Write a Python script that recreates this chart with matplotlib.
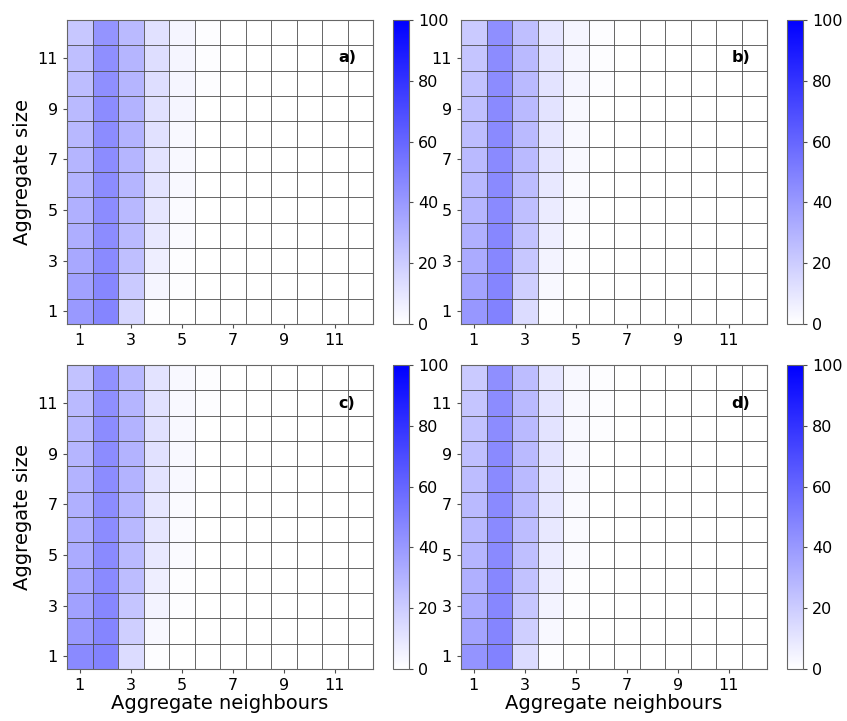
import numpy as np
import matplotlib
matplotlib.use("Agg")
import matplotlib.pyplot as plt
from matplotlib.colors import LinearSegmentedColormap

# percentage per (aggregate size, neighbours); rows = size 12 (top) .. 1 (bottom)
# columns = neighbours 1..6, neighbours 7..12 are all ~0
panel_a = [
    [22, 42, 27, 12, 4, 1],
    [25, 44, 29, 13, 4, 1],
    [26, 44, 29, 13, 4, 1],
    [27, 45, 30, 12, 4, 0],
    [28, 45, 30, 12, 3, 0],
    [29, 45, 29, 11, 3, 0],
    [30, 45, 29, 11, 3, 0],
    [31, 45, 28, 10, 2, 0],
    [32, 45, 27, 9, 2, 0],
    [34, 46, 25, 7, 1, 0],
    [37, 47, 21, 4, 1, 0],
    [40, 48, 16, 1, 0, 0],
]
panel_b = [
    [21, 44, 25, 10, 4, 1],
    [23, 45, 27, 11, 4, 1],
    [24, 45, 27, 11, 4, 1],
    [25, 46, 27, 11, 3, 0],
    [26, 46, 27, 10, 3, 0],
    [27, 46, 27, 10, 3, 0],
    [28, 46, 26, 9, 2, 0],
    [29, 46, 25, 8, 2, 0],
    [31, 47, 24, 7, 1, 0],
    [33, 47, 22, 5, 1, 0],
    [36, 48, 19, 3, 0, 0],
    [41, 49, 14, 1, 0, 0],
]
panel_c = [
    [24, 43, 28, 11, 3, 1],
    [27, 44, 29, 12, 3, 1],
    [28, 45, 30, 12, 3, 0],
    [29, 45, 30, 12, 3, 0],
    [30, 45, 30, 11, 3, 0],
    [31, 45, 29, 10, 2, 0],
    [32, 45, 28, 10, 2, 0],
    [33, 46, 27, 9, 2, 0],
    [35, 46, 26, 7, 1, 0],
    [37, 47, 23, 5, 1, 0],
    [40, 48, 19, 3, 0, 0],
    [46, 49, 14, 1, 0, 0],
]
panel_d = [
    [21, 44, 26, 10, 3, 1],
    [23, 45, 27, 11, 3, 1],
    [24, 45, 27, 11, 3, 1],
    [25, 46, 27, 11, 3, 0],
    [26, 46, 27, 10, 3, 0],
    [27, 46, 27, 10, 2, 0],
    [28, 46, 26, 9, 2, 0],
    [29, 46, 25, 8, 2, 0],
    [31, 47, 24, 7, 1, 0],
    [33, 47, 22, 5, 1, 0],
    [36, 48, 19, 3, 0, 0],
    [42, 49, 14, 1, 0, 0],
]
panel_labels = ["a)", "b)", "c)", "d)"]
ticks = [1, 3, 5, 7, 9, 11]

cmap = LinearSegmentedColormap.from_list("wb", ["#ffffff", "#0000ff"])

fig = plt.figure(figsize=(8.47, 7.21), dpi=100)
W, H = 847, 721
# (left, top) of heatmap in pixels, colorbar left
boxes = [(67, 20, 393), (461, 20, 787), (67, 365, 393), (461, 365, 787)]
panels = [panel_a, panel_b, panel_c, panel_d]
edges = np.arange(0.5, 13.5, 1)

for i, (data, lab, (lx, ty, cx)) in enumerate(zip(panels, panel_labels, boxes)):
    arr = np.array(data, dtype=float)[::-1]  # row 0 -> size 1
    full = np.hstack([arr, np.zeros((12, 6))])
    ax = fig.add_axes([lx / W, 1 - (ty + 304) / H, 306 / W, 304 / H])
    mesh = ax.pcolormesh(edges, edges, full, cmap=cmap, vmin=0, vmax=100)
    ax.vlines(edges[1:-1], 0.5, 12.5, color="0.3", lw=0.6)
    ax.hlines(edges[1:-1], 0.5, 12.5, color="0.3", lw=0.6)
    ax.set_xlim(0.5, 12.5)
    ax.set_ylim(0.5, 12.5)
    ax.set_xticks(ticks)
    ax.set_yticks(ticks)
    ax.tick_params(labelsize=11.5, length=3, color="0.3")
    for s in ax.spines.values():
        s.set_color("0.4")
    ax.text(0.915, 0.875, lab, transform=ax.transAxes, ha="center", va="center",
            fontsize=11.5, fontweight="bold")
    if i % 2 == 0:
        ax.set_ylabel("Aggregate size", fontsize=14)
    if i >= 2:
        ax.set_xlabel("Aggregate neighbours", fontsize=14, labelpad=1)
    cax = fig.add_axes([cx / W, 1 - (ty + 304) / H, 16 / W, 304 / H])
    cb = fig.colorbar(mesh, cax=cax, ticks=[0, 20, 40, 60, 80, 100])
    cb.outline.set_edgecolor("0.4")
    cb.ax.tick_params(labelsize=11.5, length=3, color="0.3")

fig.savefig("out.png", dpi=100)
